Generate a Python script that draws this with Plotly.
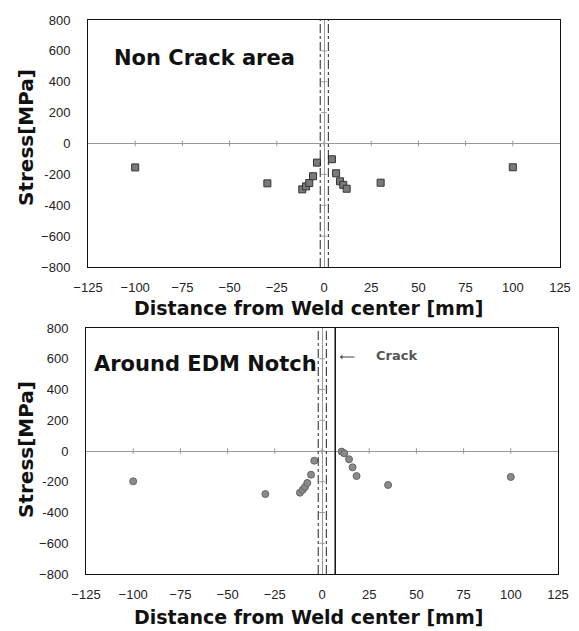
import plotly.graph_objects as go

W, H = 579, 631

# ---- data ----
top_x = [-100, -30, -11.5, -9.5, -7.8, -5.8, -3.7, 4.2, 6.4, 8.5, 10.2, 12.0, 30, 100]
top_y = [-155, -258, -297, -278, -256, -212, -124, -102, -193, -245, -268, -293, -254, -154]

bot_x = [-100, -30, -11.7, -10.2, -9.0, -7.8, -5.8, -4.1, 10.4, 11.8, 14.3, 16.2, 18.3, 35, 100]
bot_y = [-197, -280, -271, -252, -234, -208, -154, -63, -4, -15, -54, -106, -163, -221, -169]

x_ticks = [-125, -100, -75, -50, -25, 0, 25, 50, 75, 100, 125]
x_ticktext = ["\u2212125", "\u2212100", "\u221275", "\u221250", "\u221225", "0", "25", "50", "75", "100", "125"]
y_ticks = [-800, -600, -400, -200, 0, 200, 400, 600, 800]
y_ticktext = ["\u2212800", "\u2212600", "-400", "-200", "0", "200", "400", "600", "800"]

weld_lines = [-2.0, 2.3]
crack_x = 7.0

def px_x(p):
    return p / W

def px_y(p):
    return 1 - p / H

fig = go.Figure()

# zero-axis tick marks
for xa, ya in (("x", "y"), ("x2", "y2")):
    fig.add_trace(go.Scatter(x=x_ticks[1:-1], y=[0] * (len(x_ticks) - 2), mode="markers",
                             marker=dict(symbol="line-ns", size=4, line=dict(color="#999", width=1)),
                             xaxis=xa, yaxis=ya, hoverinfo="skip", showlegend=False))
    fig.add_trace(go.Scatter(x=[0] * (len(y_ticks) - 2), y=y_ticks[1:-1], mode="markers",
                             marker=dict(symbol="line-ew", size=4, line=dict(color="#999", width=1)),
                             xaxis=xa, yaxis=ya, hoverinfo="skip", showlegend=False))

fig.add_trace(go.Scatter(x=top_x, y=top_y, mode="markers",
                         marker=dict(symbol="square", size=7, color="#7a7a7a",
                                     line=dict(color="#333", width=1)),
                         xaxis="x", yaxis="y", showlegend=False))
fig.add_trace(go.Scatter(x=bot_x, y=bot_y, mode="markers",
                         marker=dict(symbol="circle", size=7, color="#8a8a8a",
                                     line=dict(color="#666", width=1)),
                         xaxis="x2", yaxis="y2", showlegend=False))

tickfont = dict(family="Liberation Sans, Arial, sans-serif", size=13, color="#222")
common_x = dict(range=[-125, 125], tickvals=x_ticks, ticktext=x_ticktext, showgrid=False,
                zeroline=True, zerolinecolor="#999", zerolinewidth=1,
                showline=True, mirror=True, linecolor="#111", linewidth=1,
                ticks="", tickfont=tickfont, ticklabelstandoff=8, automargin=False)
common_y = dict(range=[-800, 800], tickvals=y_ticks, ticktext=y_ticktext, showgrid=False,
                zeroline=True, zerolinecolor="#999", zerolinewidth=1,
                showline=True, mirror=True, linecolor="#111", linewidth=1,
                ticks="", tickfont=tickfont, ticklabelstandoff=14, automargin=False)

shapes = []
for xr, yr in (("x", "y"), ("x2", "y2")):
    for wx in weld_lines:
        shapes.append(dict(type="line", xref=xr, yref=yr + " domain", x0=wx, x1=wx, y0=0, y1=1,
                           line=dict(color="#222", width=1, dash="dashdot")))
shapes.append(dict(type="line", xref="x2", yref="y2 domain", x0=crack_x, x1=crack_x, y0=0, y1=1,
                   line=dict(color="#111", width=1.5)))

label_font = dict(family="DejaVu Sans, sans-serif", size=19, color="#111")
ylabel_font = dict(family="DejaVu Sans, sans-serif", size=20, color="#111")
ann = [
    dict(text="<b>Non Crack area</b>", x=px_x(112), y=px_y(58), xref="paper", yref="paper",
         xanchor="left", yanchor="middle", showarrow=False,
         font=dict(family="DejaVu Sans, sans-serif", size=21, color="#111")),
    dict(text="<b>Around EDM Notch</b>", x=px_x(92), y=px_y(364), xref="paper", yref="paper",
         xanchor="left", yanchor="middle", showarrow=False,
         font=dict(family="DejaVu Sans, sans-serif", size=21, color="#111")),
    dict(text="", x=px_x(340), y=px_y(357), ax=16, ay=0,
         xref="paper", yref="paper",
         showarrow=True, arrowhead=1, arrowsize=0.8, arrowwidth=1, arrowcolor="#444"),
    dict(text="<b>Crack</b>", x=px_x(374), y=px_y(356), xref="paper", yref="paper",
         xanchor="left", yanchor="middle", showarrow=False,
         font=dict(family="DejaVu Sans, sans-serif", size=13, color="#555")),
    dict(text="<b>Distance from Weld center [mm]</b>", x=px_x(308), y=px_y(308), xref="paper",
         yref="paper", xanchor="center", yanchor="middle", showarrow=False, font=label_font),
    dict(text="<b>Distance from Weld center [mm]</b>", x=px_x(308), y=px_y(617), xref="paper",
         yref="paper", xanchor="center", yanchor="middle", showarrow=False, font=label_font),
    dict(text="<b>Stress[MPa]</b>", x=px_x(26), y=px_y(138), xref="paper", yref="paper",
         xanchor="center", yanchor="middle", showarrow=False, textangle=-90, font=ylabel_font),
    dict(text="<b>Stress[MPa]</b>", x=px_x(26), y=px_y(450), xref="paper", yref="paper",
         xanchor="center", yanchor="middle", showarrow=False, textangle=-90, font=ylabel_font),
]

fig.update_layout(
    width=W, height=H, margin=dict(l=0, r=0, t=0, b=0),
    paper_bgcolor="white", plot_bgcolor="white",
    xaxis=dict(domain=[px_x(88), px_x(560)], anchor="y", **common_x),
    yaxis=dict(domain=[px_y(267), px_y(20)], anchor="x", **common_y),
    xaxis2=dict(domain=[px_x(86), px_x(558)], anchor="y2", **common_x),
    yaxis2=dict(domain=[px_y(574), px_y(328)], anchor="x2", **common_y),
    shapes=shapes, annotations=ann, showlegend=False,
)

fig.write_html("out.html")
